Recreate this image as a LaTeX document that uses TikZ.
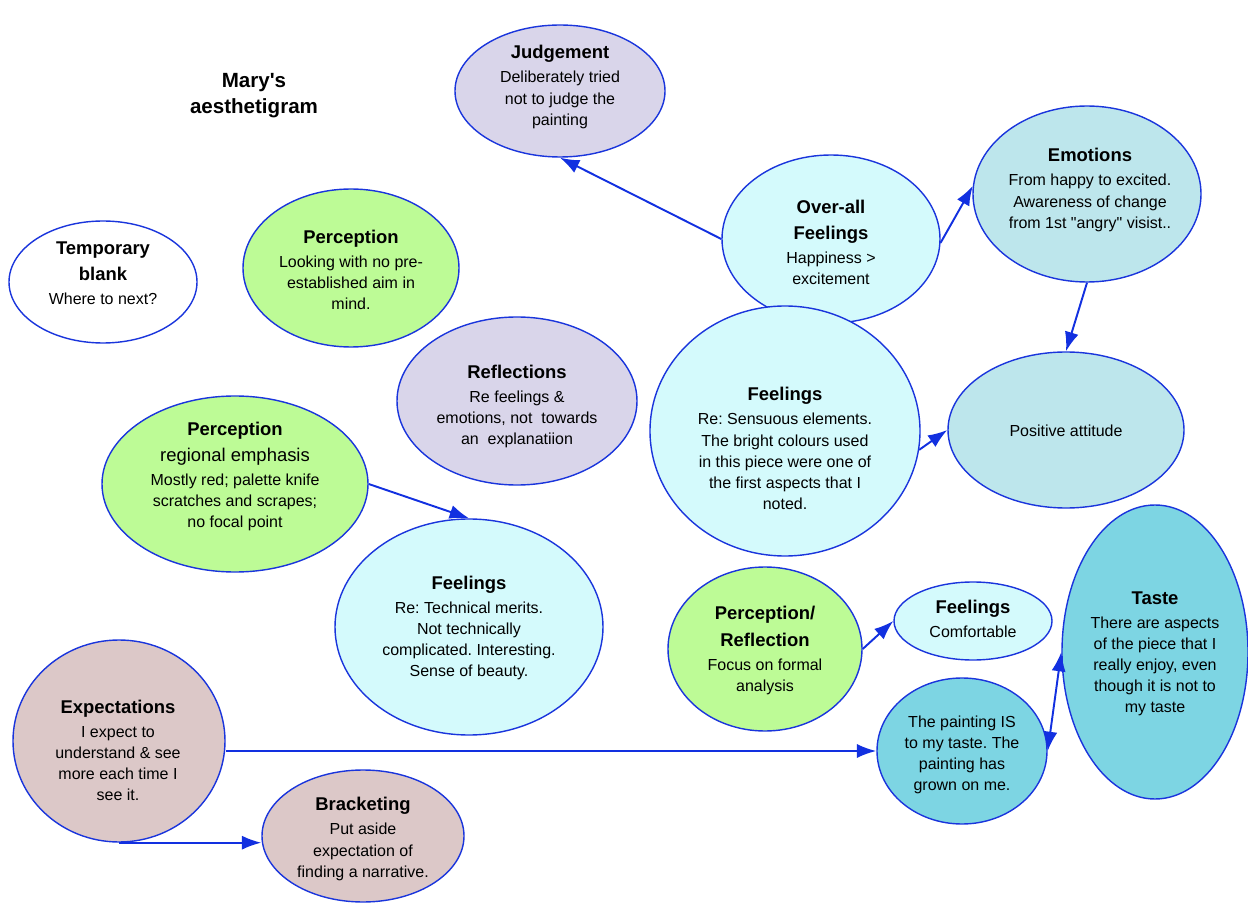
\documentclass[tikz,border=0pt]{standalone}
\usepackage{fontspec}
\setmainfont{Liberation Sans}[Ligatures=TeXOff]
\usetikzlibrary{shapes.geometric,arrows.meta}
\frenchspacing
\definecolor{edge}{HTML}{1A35DC}
\definecolor{wire}{HTML}{1230E0}
\definecolor{lav}{HTML}{D9D5EA}
\definecolor{pale}{HTML}{D4FAFC}
\definecolor{aqua}{HTML}{BDE6EC}
\definecolor{lime}{HTML}{BDFB96}
\definecolor{teal}{HTML}{7DD5E3}
\definecolor{rose}{HTML}{DCC8C8}
\newcommand{\hd}[1]{{\fontsize{10.5}{12}\selectfont\bfseries #1}}
\tikzset{
  bub/.style 2 args={ellipse, draw=edge, line width=0.8pt, inner sep=0pt,
    minimum width=#1*0.02cm, minimum height=#2*0.02cm},
  txt/.style={align=center, inner sep=0pt, font=\fontsize{9.1}{12}\selectfont\frenchspacing},
  link/.style={draw=wire, line width=1.1pt, -{Latex[length=11pt,width=8pt]}},
}
\begin{document}
\begin{tikzpicture}[x=0.02cm,y=-0.02cm]
\useasboundingbox (0,0) rectangle (1248,905);

% ellipses
\node[bub={210}{132}, fill=lav]   (judge) at (560,91)  {};
\node[bub={218}{168}, fill=pale]  (over)  at (831,239) {};
\node[bub={228}{176}, fill=aqua]  (emo)   at (1087,194) {};
\node[bub={236}{156}, fill=aqua]  (pos)   at (1066,430) {};
\node[bub={270}{250}, fill=pale]  (sens)  at (785,431) {};
\node[bub={216}{158}, fill=lime]  (perc)  at (351,268) {};
\node[bub={188}{122}, fill=white] (blank) at (103,282) {};
\node[bub={240}{168}, fill=lav]   (refl)  at (517,401) {};
\node[bub={266}{176}, fill=lime]  (regio) at (235,484) {};
\node[bub={268}{216}, fill=pale]  (tech)  at (469,627) {};
\node[bub={194}{164}, fill=lime]  (pr)    at (765,649) {};
\node[bub={158}{78},  fill=pale]  (comfy) at (973,621) {};
\node[bub={186}{294}, fill=teal]  (taste) at (1155,652) {};
\node[bub={170}{146}, fill=teal]  (paint) at (962,751) {};
\node[bub={212}{202}, fill=rose]  (expt)  at (119,741) {};
\node[bub={202}{132}, fill=rose]  (brk)   at (363,836) {};

% texts
\node[txt] (t-title) at (254,95.5) {{\fontsize{11.7}{14}\selectfont\bfseries Mary's}\\[3pt]{\fontsize{11.7}{14}\selectfont\bfseries aesthetigram}};
\node[txt] (t-judge) at (560,87) {\hd{Judgement}\\[1.7pt]Deliberately tried\\not to judge the\\painting};
\node[txt] (t-over) at (831,242) {\hd{Over-all}\\[2.8pt]\hd{Feelings}\\[1.7pt]Happiness >\\excitement};
\node[txt] (t-emo) at (1090,190) {\hd{Emotions}\\[1.7pt]From happy to excited.\\Awareness of change\\from 1st "angry" visist..};
\node[txt] (t-pos) at (1066,431) {Positive attitude};
\node[txt] (t-sens) at (785,448.5) {\hd{Feelings}\\[1.7pt]Re: Sensuous elements.\\The bright colours used\\in this piece were one of\\the first aspects that I\\noted.};
\node[txt] (t-perc) at (351,270) {\hd{Perception}\\[1.2pt]Looking with no pre-\\established aim in\\mind.};
\node[txt] (t-blank) at (103,273) {\hd{Temporary}\\[2.8pt]\hd{blank}\\[1.7pt]Where to next?};
\node[txt] (t-refl) at (517,406.5) {\hd{Reflections}\\[1.7pt]Re feelings \&\\emotions, not\ \ towards\\an\ \ explanatiion};
\node[txt] (t-regio) at (235,476.5) {\hd{Perception}\\[2.5pt]{\fontsize{10.5}{12}\selectfont regional emphasis}\\[1.7pt]Mostly red; palette knife\\scratches and scrapes;\\no focal point};
\node[txt] (t-tech) at (469,628) {\hd{Feelings}\\[1.7pt]Re: Technical merits.\\Not technically\\complicated. Interesting.\\Sense of beauty.};
\node[txt] (t-pr) at (765,650.5) {\hd{Perception/}\\[3pt]\hd{Reflection}\\[1.7pt]Focus on formal\\analysis};
\node[txt] (t-comfy) at (973,619) {\hd{Feelings}\\[1.7pt]Comfortable};
\node[txt] (t-taste) at (1155,654) {\hd{Taste}\\[1.7pt]There are aspects\\of the piece that I\\really enjoy, even\\though it is not to\\my taste};
\node[txt] (t-paint) at (962,754.5) {The painting IS\\to my taste. The\\painting has\\grown on me.};
\node[txt] (t-expt) at (118,750.5) {\hd{Expectations}\\[1.7pt]I expect to\\understand \& see\\more each time I\\see it.};
\node[txt] (t-brk) at (363,839) {\hd{Bracketing}\\[1.7pt]Put aside\\expectation of\\finding a narrative.};

% connectors
\draw[link] (over.west) -- (judge.south);
\draw[link] (over.-2) -- (emo.176);
\draw[link] (emo.south) -- (pos.north);
\draw[link] (sens.-8) -- (pos.west);
\draw[link] (regio.east) -- (tech.north);
\draw[link] (pr.east) -- (comfy.west);
\draw[draw=wire, line width=1.1pt, {Latex[length=11pt,width=8pt]}-{Latex[length=11pt,width=8pt]}] (paint.east) -- (taste.west);
\draw[link] (paint.west -| expt.east) -- (paint.west);
\draw[link] (expt.south) -- (expt.south -| brk.west);
\end{tikzpicture}
\end{document}
